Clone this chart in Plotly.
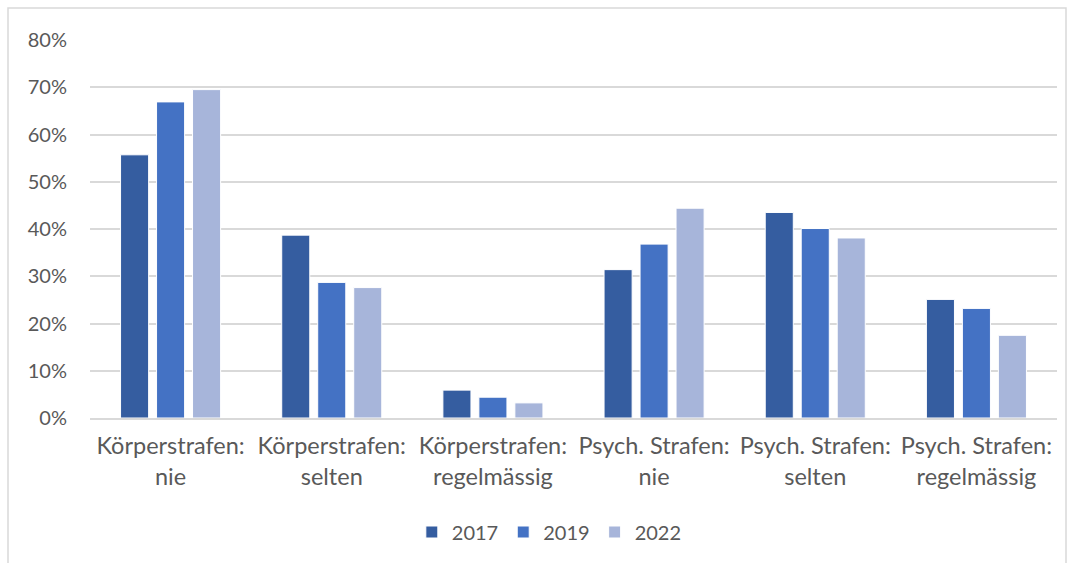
import plotly.graph_objects as go

categories = ["Körperstrafen:<br>nie", "Körperstrafen:<br>selten", "Körperstrafen:<br>regelmässig",
              "Psych. Strafen:<br>nie", "Psych. Strafen:<br>selten", "Psych. Strafen:<br>regelmässig"]
years = ["2017", "2019", "2022"]
v2017 = [0.557, 0.387, 0.059, 0.314, 0.435, 0.251]
v2019 = [0.669, 0.287, 0.044, 0.368, 0.401, 0.232]
v2022 = [0.695, 0.276, 0.032, 0.444, 0.381, 0.175]
colors = ["#355DA0", "#4472C4", "#A7B5DA"]

font_family = "Lato, sans-serif"
txt = "#595959"

fig = go.Figure()
for name, vals, col in zip(years, [v2017, v2019, v2022], colors):
    fig.add_trace(go.Bar(x=categories, y=vals, name=name, marker_color=col,
                         marker_line_color="white", marker_line_width=1))

fig.update_layout(
    width=1073, height=563,
    margin=dict(l=90, r=16, t=40, b=145),
    paper_bgcolor="white", plot_bgcolor="white",
    barmode="group", bargap=0.33, bargroupgap=0.22,
    font=dict(family=font_family, size=20, color=txt),
    showlegend=True,
    legend=dict(orientation="h", x=0.475, xanchor="center", y=-0.3016, yanchor="middle",
                font=dict(size=20, color=txt), itemwidth=30, traceorder="normal"),
    yaxis=dict(range=[0, 0.8], dtick=0.1, tickformat=".0%", showgrid=True,
               gridcolor="#D9D9D9", gridwidth=1.5, zeroline=False, showline=False,
               ticks="", ticklabelstandoff=22, tickfont=dict(size=20, color=txt)),
    xaxis=dict(showline=True, linecolor="#D9D9D9", linewidth=1.5, ticks="",
               ticklabelstandoff=6, tickfont=dict(size=23.5, color=txt)),
    shapes=[dict(type="rect", xref="paper", yref="paper",
                 x0=-0.0848, x1=1.0093, y0=-0.45, y1=1.0847,
                 line=dict(color="#D9D9D9", width=1.5), fillcolor="rgba(0,0,0,0)", layer="below")],
)

fig.write_html("out.html", config={"displayModeBar": False},
               post_script="document.body.style.margin='0';document.body.style.overflow='hidden';")
